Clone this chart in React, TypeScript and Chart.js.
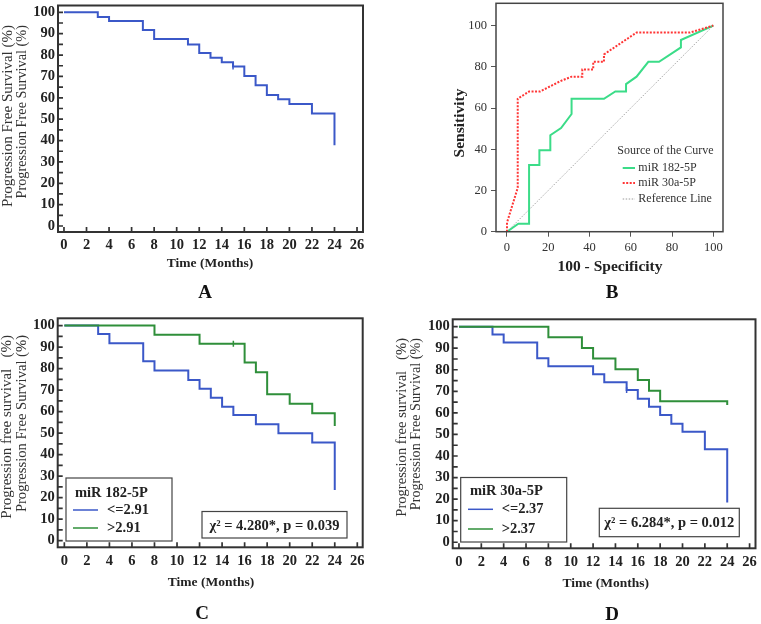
import React, { useEffect, useRef } from 'react';
import { Chart, registerables } from 'chart.js';
Chart.register(...registerables);

const SERIF = '"Liberation Serif", "Times New Roman", serif';

// ---------- data ----------
const KM_X_TICKS = [0, 2, 4, 6, 8, 10, 12, 14, 16, 18, 20, 22, 24, 26];
const KM_Y_TICKS = [0, 5, 10, 15, 20, 25, 30, 35, 40, 45, 50, 55, 60, 65, 70, 75, 80, 85, 90, 95, 100];
const ROC_TICKS = [0, 20, 40, 60, 80, 100];

// Panel A – overall PFS
const A_TIMES = [0, 3, 4, 7, 8, 11, 12, 13, 14, 15, 16, 17, 18, 19, 20, 22, 24];
const A_SURV = [100, 97.8, 96.0, 91.7, 87.5, 85.0, 81.0, 78.7, 76.7, 74.7, 70.2, 65.9, 61.3, 59.3, 57.1, 52.6, 37.8];
const A_CENSOR_T = [15];
const A_CENSOR_S = [74.7];

// Panel B – ROC curves
const ROC182_FPR = [0, 5.5, 10.7, 10.7, 15.7, 15.7, 21, 21, 26.2, 31.3, 31.3, 47, 52.5, 57.7, 57.7, 62.8, 68.5, 73.7, 84.3, 84.3, 100];
const ROC182_TPR = [0, 3.9, 3.9, 32.3, 32.3, 39.5, 39.5, 46.8, 50.3, 57.1, 64.5, 64.5, 68, 68, 71.6, 75.2, 82.4, 82.4, 89.4, 93, 100];
const ROC30A_FPR = [0, 0, 5.2, 5.2, 10.7, 16, 26.2, 31.3, 36.5, 36.5, 41.8, 41.8, 47, 47, 62.8, 88.7, 100];
const ROC30A_TPR = [0, 4.4, 21.3, 64.5, 68, 68, 73.2, 75.2, 75.2, 78.7, 78.7, 82.4, 82.4, 86, 96.6, 96.6, 100];
const REF_X = [0, 100];
const REF_Y = [0, 100];

// Panel C – miR 182-5P
const C_LOW_TIMES = [0, 3, 4, 7, 8, 11, 12, 13, 14, 15, 17, 19, 22, 24];
const C_LOW_SURV = [100, 96.1, 91.8, 83.4, 79.1, 74.7, 70.7, 66.5, 62.3, 58.4, 54.1, 49.9, 45.7, 23.6];
const C_HIGH_TIMES = [0, 8, 12, 16, 17, 18, 20, 22, 24];
const C_HIGH_SURV = [100, 95.8, 91.6, 82.8, 78.3, 68.1, 63.7, 59.2, 53.3];
const C_CENSOR_T = [15];
const C_CENSOR_S = [91.6];

// Panel D – miR 30a-5P
const D_LOW_TIMES = [0, 3, 4, 7, 8, 12, 13, 15, 16, 17, 18, 19, 20, 22, 24];
const D_LOW_SURV = [100, 96.3, 92.6, 85.3, 81.6, 77.9, 74.2, 70.6, 66.6, 62.9, 59.0, 55.0, 51.2, 43.1, 18.4];
const D_HIGH_TIMES = [0, 8, 11, 12, 14, 16, 17, 18, 24];
const D_HIGH_SURV = [100, 95.1, 90.1, 85.2, 80.2, 75.3, 70.3, 65.4, 63.7];
const D_CENSOR_T = [15];
const D_CENSOR_S = [70.6];

// ---------- styles ----------
const BLUE = '#3b58c8';
const GREEN = '#2f8f3a';
const ROC_GREEN = '#3bdc88';
const ROC_RED = '#ff3535';
const FRAME = '#333333';

type TextItem = { text: string; x: number; y: number; font: string; align?: CanvasTextAlign; rotate?: boolean; color?: string };

function drawTexts(ctx: CanvasRenderingContext2D, items: TextItem[]) {
  for (const t of items) {
    ctx.save();
    ctx.font = t.font;
    ctx.fillStyle = t.color || '#222';
    ctx.textAlign = t.align || 'center';
    ctx.textBaseline = 'middle';
    ctx.translate(t.x, t.y);
    if (t.rotate) ctx.rotate(-Math.PI / 2);
    ctx.fillText(t.text, 0, 0);
    ctx.restore();
  }
}

function zeroPad(s: any) {
  s.paddingTop = 0; s.paddingBottom = 0; s.paddingLeft = 0; s.paddingRight = 0;
}

const pts = (xs: number[], ys: number[]) => xs.map((x, i) => ({ x, y: ys[i] }));

type KMLegend = { box: [number, number, number, number]; title: string; labels: string[]; colors: string[]; tx: number; lx: [number, number]; ty: number; ly: number[] };
type KMStats = { box: [number, number, number, number]; text: string };

type KMPanel = {
  w: number; h: number;
  area: { left: number; top: number; right: number; bottom: number };
  xMin: number; xMax: number; yMin: number; yMax: number;
  series: { t: number[]; s: number[]; color: string }[];
  censor: { t: number[]; s: number[]; color: string }[];
  texts: TextItem[];
  legend?: KMLegend;
  stats?: KMStats;
};

const kmFrame = {
  id: 'kmFrame',
  afterDatasetsDraw(chart: any) {
    const { ctx, chartArea: a, scales } = chart;
    const x = scales.x, y = scales.y;
    ctx.save();
    ctx.strokeStyle = FRAME;
    ctx.lineWidth = 2;
    ctx.strokeRect(a.left, a.top, a.right - a.left, a.bottom - a.top);
    ctx.lineWidth = 1.7;
    ctx.beginPath();
    x.ticks.forEach((t: any) => {
      const px = x.getPixelForValue(t.value);
      ctx.moveTo(px, a.bottom);
      ctx.lineTo(px, a.bottom - 5);
    });
    y.ticks.forEach((t: any) => {
      const py = y.getPixelForValue(t.value);
      ctx.moveTo(a.left, py);
      ctx.lineTo(a.left + 5, py);
    });
    ctx.stroke();
    ctx.restore();
  },
};

function kmConfig(p: KMPanel): any {
  const tickFont = { family: SERIF, size: 14.5, weight: 'bold' as const };
  const overlay = {
    id: 'kmOverlay',
    afterDraw(chart: any) {
      const ctx: CanvasRenderingContext2D = chart.ctx;
      drawTexts(ctx, p.texts);
      if (p.legend) {
        const L = p.legend;
        ctx.save();
        ctx.fillStyle = '#fff';
        ctx.fillRect(L.box[0], L.box[1], L.box[2] - L.box[0], L.box[3] - L.box[1]);
        ctx.strokeStyle = '#444';
        ctx.lineWidth = 1.2;
        ctx.strokeRect(L.box[0], L.box[1], L.box[2] - L.box[0], L.box[3] - L.box[1]);
        ctx.font = `bold 14.5px ${SERIF}`;
        ctx.fillStyle = '#222';
        ctx.textAlign = 'left';
        ctx.textBaseline = 'middle';
        ctx.fillText(L.title, L.lx[0] + 2, L.ty);
        L.labels.forEach((lab, i) => {
          ctx.strokeStyle = L.colors[i];
          ctx.lineWidth = 1.5;
          ctx.beginPath();
          ctx.moveTo(L.lx[0], L.ly[i]);
          ctx.lineTo(L.lx[1], L.ly[i]);
          ctx.stroke();
          ctx.fillText(lab, L.tx, L.ly[i]);
        });
        ctx.restore();
      }
      if (p.stats) {
        const S = p.stats;
        ctx.save();
        ctx.fillStyle = '#fff';
        ctx.fillRect(S.box[0], S.box[1], S.box[2] - S.box[0], S.box[3] - S.box[1]);
        ctx.strokeStyle = '#444';
        ctx.lineWidth = 1.2;
        ctx.strokeRect(S.box[0], S.box[1], S.box[2] - S.box[0], S.box[3] - S.box[1]);
        ctx.font = `bold 14.5px ${SERIF}`;
        ctx.fillStyle = '#222';
        ctx.textAlign = 'center';
        ctx.textBaseline = 'middle';
        ctx.fillText(S.text, (S.box[0] + S.box[2]) / 2, (S.box[1] + S.box[3]) / 2 + 1);
        ctx.restore();
      }
    },
  };
  const lines = p.series.map((s) => ({
    type: 'line',
    data: pts(s.t, s.s),
    borderColor: s.color,
    borderWidth: 2,
    stepped: 'before',
    pointRadius: 0,
    fill: false,
  }));
  const cens = p.censor.map((c) => ({
    type: 'scatter',
    data: pts(c.t, c.s),
    borderColor: c.color,
    backgroundColor: c.color,
    borderWidth: 1.5,
    pointStyle: 'line',
    rotation: 90,
    pointRadius: 3,
    showLine: false,
  }));
  return {
    type: 'line',
    data: { datasets: [...lines, ...cens] },
    options: {
      animation: false,
      responsive: false,
      devicePixelRatio: 1,
      events: [],
      layout: { padding: { left: 0, top: p.area.top, right: p.w - p.area.right, bottom: 0 } },
      plugins: { legend: { display: false }, tooltip: { enabled: false }, title: { display: false } },
      scales: {
        x: {
          type: 'linear',
          min: p.xMin,
          max: p.xMax,
          afterBuildTicks: (s: any) => { s.ticks = KM_X_TICKS.map((v) => ({ value: v })); },
          afterFit: (s: any) => { s.height = p.h - p.area.bottom; zeroPad(s); },
          grid: { drawOnChartArea: false, drawTicks: false },
          border: { display: false },
          ticks: { font: tickFont, color: '#222', padding: 5, maxRotation: 0, autoSkip: false },
        },
        y: {
          type: 'linear',
          min: p.yMin,
          max: p.yMax,
          afterBuildTicks: (s: any) => { s.ticks = KM_Y_TICKS.map((v) => ({ value: v })); },
          afterFit: (s: any) => { s.width = p.area.left; zeroPad(s); },
          grid: { drawOnChartArea: false, drawTicks: false },
          border: { display: false },
          ticks: {
            font: tickFont, color: '#222', padding: 3, autoSkip: false,
            callback: (v: any) => (Number(v) % 10 === 0 ? String(v) : ''),
          },
        },
      },
    },
    plugins: [kmFrame, overlay],
  };
}

const TITLE_FONT = `bold 13.5px ${SERIF}`;
const LABEL_FONT = `bold 19px ${SERIF}`;

const PANEL_A: KMPanel = {
  w: 380, h: 300,
  area: { left: 58, top: 3, right: 363, bottom: 232 },
  xMin: -0.53, xMax: 26.53, yMin: -2.8, yMax: 103.2,
  series: [{ t: A_TIMES, s: A_SURV, color: BLUE }],
  censor: [{ t: A_CENSOR_T, s: A_CENSOR_S, color: BLUE }],
  texts: [
    { text: 'Progression Free Survival (%)', x: 8, y: 25, font: `15px ${SERIF}`, align: 'right', rotate: true, color: '#333' },
    { text: 'Progression Free Survival (%)', x: 22, y: 25, font: `14.3px ${SERIF}`, align: 'right', rotate: true, color: '#333' },
    { text: 'Time (Months)', x: 210, y: 264, font: TITLE_FONT },
    { text: 'A', x: 205, y: 293, font: LABEL_FONT, color: '#111' },
  ],
};

const PANEL_C: KMPanel = {
  w: 380, h: 324,
  area: { left: 57.7, top: 18.3, right: 362.7, bottom: 247.3 },
  xMin: -0.59, xMax: 26.48, yMin: -3.07, yMax: 103.4,
  series: [
    { t: C_HIGH_TIMES, s: C_HIGH_SURV, color: GREEN },
    { t: C_LOW_TIMES, s: C_LOW_SURV, color: BLUE },
  ],
  censor: [{ t: C_CENSOR_T, s: C_CENSOR_S, color: GREEN }],
  texts: [
    { text: 'Progression free survival   (%)', x: 7.5, y: 35, font: `15px ${SERIF}`, align: 'right', rotate: true, color: '#333' },
    { text: 'Progression Free Survival (%)', x: 22.5, y: 35, font: `14.6px ${SERIF}`, align: 'right', rotate: true, color: '#333' },
    { text: 'Time (Months)', x: 211, y: 283, font: TITLE_FONT },
    { text: 'C', x: 202, y: 314, font: LABEL_FONT, color: '#111' },
  ],
  legend: {
    box: [66, 178, 172, 241], title: 'miR 182-5P', labels: ['<=2.91', '>2.91'], colors: [BLUE, GREEN],
    lx: [73, 98], tx: 107, ty: 193, ly: [210, 228],
  },
  stats: { box: [202, 211.5, 347, 238], text: 'χ² = 4.280*, p = 0.039' },
};

const PANEL_D: KMPanel = {
  w: 381, h: 324,
  area: { left: 72.7, top: 19.3, right: 378.3, bottom: 248.3 },
  xMin: -0.56, xMax: 26.53, yMin: -2.8, yMax: 103.4,
  series: [
    { t: D_HIGH_TIMES, s: D_HIGH_SURV, color: GREEN },
    { t: D_LOW_TIMES, s: D_LOW_SURV, color: BLUE },
  ],
  censor: [{ t: D_CENSOR_T, s: D_CENSOR_S, color: BLUE }],
  texts: [
    { text: 'Progression free survival   (%)', x: 21.7, y: 38, font: `14.6px ${SERIF}`, align: 'right', rotate: true, color: '#333' },
    { text: 'Progression Free Survival (%)', x: 36.7, y: 38, font: `14.2px ${SERIF}`, align: 'right', rotate: true, color: '#333' },
    { text: 'Time (Months)', x: 225.7, y: 284, font: TITLE_FONT },
    { text: 'D', x: 232, y: 315, font: LABEL_FONT, color: '#111' },
  ],
  legend: {
    box: [80.7, 177.5, 186.7, 242], title: 'miR 30a-5P', labels: ['<=2.37', '>2.37'], colors: [BLUE, GREEN],
    lx: [88, 113], tx: 121.7, ty: 191.7, ly: [209.3, 229],
  },
  stats: { box: [219.3, 208.3, 359.3, 236.7], text: 'χ² = 6.284*, p = 0.012' },
};

function rocConfig(): any {
  const W = 381, H = 300;
  const area = { left: 116, top: 3.3, right: 343, bottom: 231.7 };
  const tickFont = { family: SERIF, size: 12.5 };
  const overlay = {
    id: 'rocOverlay',
    afterDraw(chart: any) {
      const ctx: CanvasRenderingContext2D = chart.ctx;
      const a = chart.chartArea;
      ctx.save();
      ctx.strokeStyle = '#444';
      ctx.lineWidth = 1.5;
      ctx.strokeRect(a.left, a.top, a.right - a.left, a.bottom - a.top);
      ctx.restore();
      drawTexts(ctx, [
        { text: '100 - Specificity', x: 230, y: 267, font: `bold 15.5px ${SERIF}` },
        { text: 'Sensitivity', x: 80, y: 123, font: `bold 15.5px ${SERIF}`, rotate: true },
        { text: 'B', x: 232, y: 293, font: LABEL_FONT, color: '#111' },
        { text: 'Source of the Curve', x: 237.3, y: 151, font: `12px ${SERIF}`, align: 'left', color: '#333' },
        { text: 'miR 182-5P', x: 258.3, y: 168, font: `12px ${SERIF}`, align: 'left', color: '#333' },
        { text: 'miR 30a-5P', x: 258.3, y: 183, font: `12px ${SERIF}`, align: 'left', color: '#333' },
        { text: 'Reference Line', x: 258.3, y: 199, font: `12px ${SERIF}`, align: 'left', color: '#333' },
      ]);
      ctx.save();
      const seg = (y: number, color: string, w: number, dash: number[]) => {
        ctx.strokeStyle = color; ctx.lineWidth = w; ctx.setLineDash(dash);
        ctx.beginPath(); ctx.moveTo(242.7, y); ctx.lineTo(255, y); ctx.stroke();
      };
      seg(168, ROC_GREEN, 2, []);
      seg(183, ROC_RED, 2, [2, 1.5]);
      seg(199, '#9a9a9a', 1, [1.5, 1.5]);
      ctx.restore();
    },
  };
  return {
    type: 'line',
    data: {
      datasets: [
        { data: pts(ROC30A_FPR, ROC30A_TPR), borderColor: ROC_RED, borderWidth: 2, borderDash: [2, 1.5], pointRadius: 0, tension: 0, fill: false },
        { data: pts(ROC182_FPR, ROC182_TPR), borderColor: ROC_GREEN, borderWidth: 2, pointRadius: 0, tension: 0, fill: false },
        { data: pts(REF_X, REF_Y), borderColor: '#a8a8a8', borderWidth: 1, borderDash: [1.5, 1.5], pointRadius: 0, fill: false },
      ],
    },
    options: {
      animation: false,
      responsive: false,
      devicePixelRatio: 1,
      events: [],
      layout: { padding: { left: 0, top: area.top, right: W - area.right, bottom: 0 } },
      plugins: { legend: { display: false }, tooltip: { enabled: false } },
      scales: {
        x: {
          type: 'linear', min: -5.33, max: 104.7,
          afterBuildTicks: (s: any) => { s.ticks = ROC_TICKS.map((v) => ({ value: v })); },
          afterFit: (s: any) => { s.height = H - area.bottom; zeroPad(s); },
          grid: { drawOnChartArea: false, drawTicks: true, tickLength: 5, color: '#555' },
          border: { display: false },
          ticks: { font: tickFont, color: '#333', padding: 4, maxRotation: 0, autoSkip: false },
        },
        y: {
          type: 'linear', min: 0, max: 110.8,
          afterBuildTicks: (s: any) => { s.ticks = ROC_TICKS.map((v) => ({ value: v })); },
          afterFit: (s: any) => { s.width = area.left; zeroPad(s); },
          grid: { drawOnChartArea: false, drawTicks: true, tickLength: 5, color: '#555' },
          border: { display: false },
          ticks: { font: tickFont, color: '#333', padding: 4, autoSkip: false },
        },
      },
    },
    plugins: [overlay],
  };
}

function Panel({ left, top, w, h, make }: { left: number; top: number; w: number; h: number; make: () => any }) {
  const ref = useRef<HTMLCanvasElement | null>(null);
  useEffect(() => {
    if (!ref.current) return;
    const chart = new Chart(ref.current, make());
    return () => chart.destroy();
  }, []);
  return (
    <canvas
      ref={ref}
      width={w}
      height={h}
      style={{ position: 'absolute', left, top, width: w, height: h, display: 'block' }}
    />
  );
}

export default function App() {
  return (
    <div style={{ position: 'absolute', left: 0, top: 0, width: 761, height: 624, background: '#fff', overflow: 'hidden' }}>
      <Panel left={0} top={0} w={380} h={300} make={() => kmConfig(PANEL_A)} />
      <Panel left={380} top={0} w={381} h={300} make={rocConfig} />
      <Panel left={0} top={300} w={380} h={324} make={() => kmConfig(PANEL_C)} />
      <Panel left={380} top={300} w={381} h={324} make={() => kmConfig(PANEL_D)} />
    </div>
  );
}
